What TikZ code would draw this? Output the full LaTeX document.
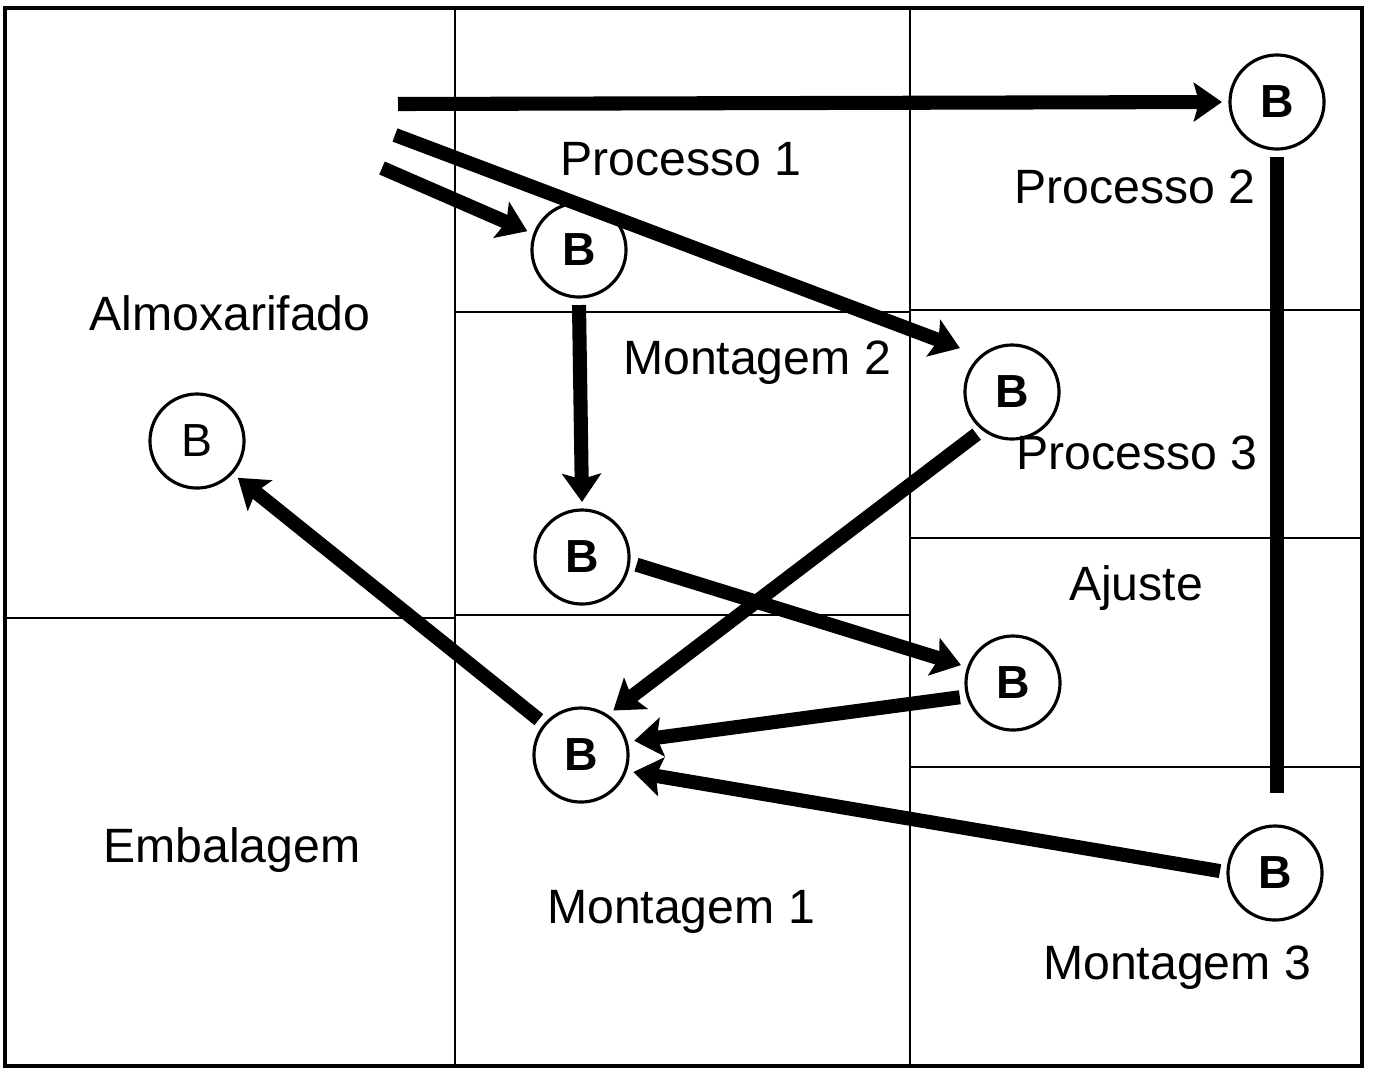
\documentclass[tikz,border=0pt]{standalone}
\usepackage{fontspec}
\setmainfont{Liberation Sans}
\usetikzlibrary{arrows.meta}

\begin{document}
\begin{tikzpicture}[
    x=0.01cm, y=-0.01cm,
    wall/.style={draw, line width=0.7pt},
    room/.style={anchor=base, font=\fontsize{13.7}{16}\selectfont},
    bin/.style={draw, circle, line width=0.9pt, minimum size=0.94cm, inner sep=0pt, outer sep=0.08cm, font=\fontsize{13.2}{16}\selectfont\bfseries},
    flow/.style={-{Stealth[length=8pt, width=11pt, inset=1.5pt]}, line width=4pt},
]
\useasboundingbox (0,0) rectangle (1373,1069);

% Walls
\draw[wall, line width=0.9pt] (5,8) rectangle (1362,1066);
\draw[wall] (455,8) -- (455,1066);
\draw[wall] (910,8) -- (910,1066);
\draw[wall] (5,618) -- (455,618);
\draw[wall] (455,312) -- (910,312);
\draw[wall] (455,615) -- (910,615);
\draw[wall] (910,310) -- (1362,310);
\draw[wall] (910,538) -- (1362,538);
\draw[wall] (910,767) -- (1362,767);

% Rooms
\node[room] (almox) at (230,330) {Almoxarifado};
\node[room] (proc1) at (681,175) {Processo 1};
\node[room] (proc2) at (1135,203) {Processo 2};
\node[room] (mont2) at (757,374) {Montagem 2};
\node[room] (proc3) at (1137,469) {Processo 3};
\node[room] (ajuste) at (1136,600) {Ajuste};
\node[room] (embal) at (232,862) {Embalagem};
\node[room] (mont1) at (681,923) {Montagem 1};
\node[room] (mont3) at (1177,979) {Montagem 3};

% Bins
\node[bin] (b1) at (1277,102) {B};
\node[bin] (b2) at (579,250) {B};
\node[bin] (b3) at (1012,392) {B};
\node[bin, font=\fontsize{13.2}{16}\selectfont] (b4) at (197,441) {B};
\node[bin] (b5) at (582,557) {B};
\node[bin] (b6) at (1013,683) {B};
\node[bin] (b7) at (581,755) {B};
\node[bin] (b8) at (1275,873) {B};

% Free ends
\coordinate (in1) at (398,104);
\coordinate (in2) at (395,135);
\coordinate (in3) at (382,168);
\coordinate (drop) at (1277,793);

% Flows
\draw[flow] (in1) -- (b1.180);
\draw[flow, shorten >=4pt] (in2) -- (b3.135);
\draw[flow] (in3) -- (b2.160);
\draw[flow] (b2.south) -- (b5.north);
\draw[flow] (b5.352) -- (b6.161);
\draw[flow] (b3.230) -- (b7.54);
\draw[flow] (b6.195) -- (b7.15);
\draw[flow] (b8.178) -- (b7.342);
\draw[flow] (b7.140) -- (b4.318);
\draw[line width=4pt] (b1.south) -- (drop);

\end{tikzpicture}
\end{document}
